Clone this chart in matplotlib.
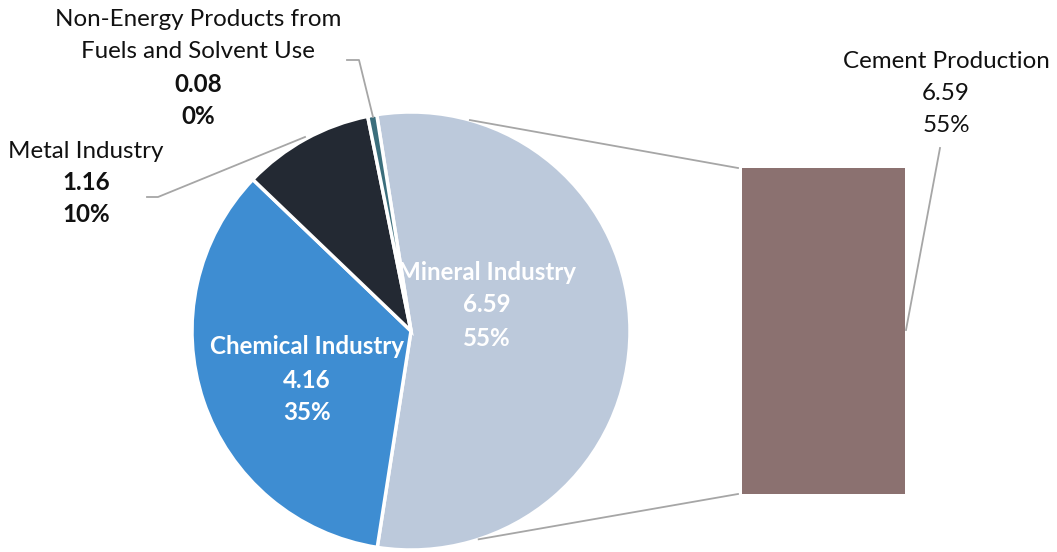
import numpy as np
import matplotlib
matplotlib.use('Agg')
import matplotlib.pyplot as plt

plt.rcParams['font.family'] = ['Lato', 'DejaVu Sans']

# sectors of the pie (clockwise from the top)
sectors = ['Mineral Industry', 'Chemical Industry', 'Metal Industry',
           'Non-Energy Products from\nFuels and Solvent Use']
values = [6.59, 4.16, 1.16, 0.08]
shares = ['55%', '35%', '10%', '0%']
colors = ['#BCC9DB', '#3E8DD2', '#232933', '#3B6E7C']

# breakdown of the mineral sector shown in the bar
sub_name = 'Cement Production'
sub_value = 6.59
sub_share = '55%'

W, H = 1057, 552
fig = plt.figure(figsize=(W / 100, H / 100), dpi=100)
ax = fig.add_axes([0, 0, 1, 1])
ax.set_xlim(0, W)
ax.set_ylim(0, H)
ax.set_aspect('equal')
ax.axis('off')

cx, cy, r = 411, 552 - 331, 219
ax.pie(values, colors=colors, startangle=99, counterclock=False,
       center=(cx, cy), radius=r, frame=True,
       wedgeprops=dict(edgecolor='white', linewidth=2.5))
ax.set_xlim(0, W)
ax.set_ylim(0, H)
ax.axis('off')

# bar for the mineral breakdown
bar_x, bar_w, bar_bottom = 823.5, 163, 552 - 494
scale = 326 / sub_value
ax.bar([bar_x], [sub_value * scale], width=bar_w, bottom=bar_bottom,
       color='#8B7170', edgecolor='none')
bar_top = bar_bottom + sub_value * scale

# connector lines between the pie and the bar
line_c = '#A6A6A6'
a1, a2 = np.deg2rad(74.4), np.deg2rad(-72)
ax.plot([cx + r * np.cos(a1), bar_x - bar_w / 2 - 4],
        [cy + r * np.sin(a1), bar_top], color=line_c, lw=1.3)
ax.plot([cx + r * np.cos(a2), bar_x - bar_w / 2 - 4],
        [cy + r * np.sin(a2), bar_bottom], color=line_c, lw=1.3)

fs = 17.4
txt = '#111111'

def y(p):
    return 552 - p

# labels inside the pie
for (name, val, pct), (lx, ly) in zip(
        [(sectors[0], values[0], shares[0]), (sectors[1], values[1], shares[1])],
        [(487, 272), (307, 347)]):
    for k, s in enumerate([name, f'{val:.2f}', pct]):
        ax.text(lx, y(ly + 33 * k), s, color='white', fontsize=fs,
                fontweight='bold', ha='center', va='center')

# metal industry label
ax.text(86, y(151), sectors[2], color=txt, fontsize=fs, ha='center', va='center')
ax.text(86, y(183), f'{values[2]:.2f}', color=txt, fontsize=fs,
        fontweight='bold', ha='center', va='center')
ax.text(86, y(215), shares[2], color=txt, fontsize=fs,
        fontweight='bold', ha='center', va='center')
ax.plot([147, 158, 305], [y(197), y(197), y(137)], color=line_c, lw=1.3)

# non-energy label
ne = sectors[3].split('\n')
ax.text(198, y(20), ne[0], color=txt, fontsize=fs, ha='center', va='center')
ax.text(198, y(52), ne[1], color=txt, fontsize=fs, ha='center', va='center')
ax.text(198, y(85), f'{values[3]:.2f}', color=txt, fontsize=fs,
        fontweight='bold', ha='center', va='center')
ax.text(198, y(117), shares[3], color=txt, fontsize=fs,
        fontweight='bold', ha='center', va='center')
ax.plot([347, 359, 373], [y(60), y(60), y(117)], color=line_c, lw=1.3)

# cement label
for k, s in enumerate([sub_name, f'{sub_value:.2f}', sub_share]):
    ax.text(946, y(61 + 32.5 * k), s, color=txt, fontsize=fs,
            ha='center', va='center')
ax.plot([906, 940], [y(330), y(148)], color=line_c, lw=1.3)

fig.savefig('out.png', dpi=100, facecolor='white')
